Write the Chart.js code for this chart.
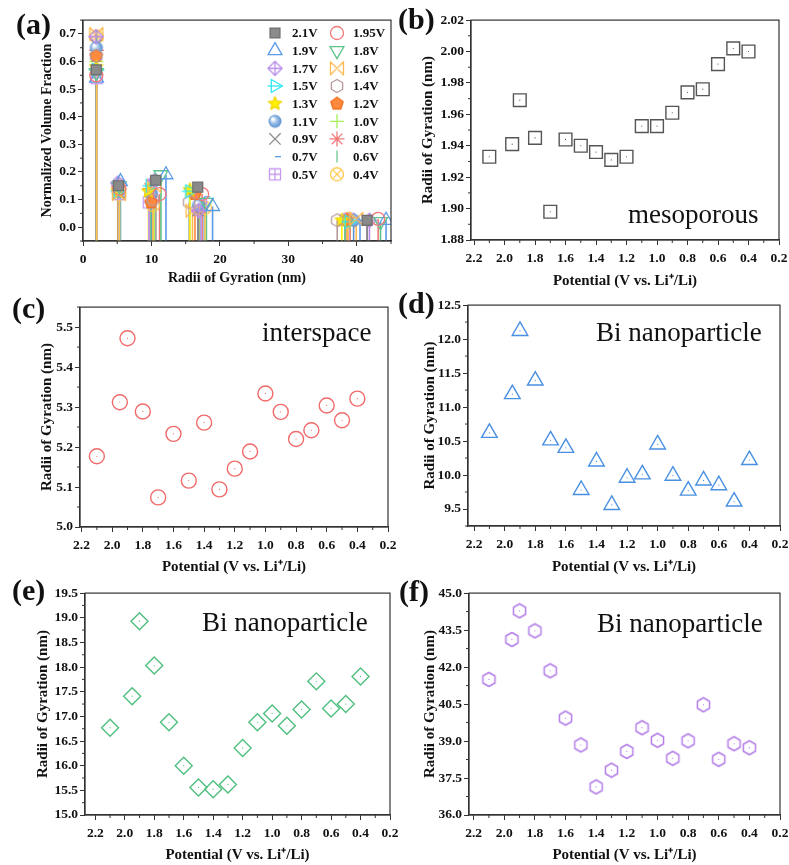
<!DOCTYPE html>
<html>
<head>
<meta charset="utf-8">
<script src="https://cdn.jsdelivr.net/npm/chart.js@4.4.1/dist/chart.umd.min.js"></script>
<style>
  body { margin: 0; background: #fff; width: 789px; height: 865px; position: relative; overflow: hidden; font-family: 'Liberation Serif', 'Times New Roman', serif; }
  canvas { position: absolute; }
  .lab { position: absolute; font-weight: bold; font-size: 30px; line-height: 30px; color: #111; }
  .note { position: absolute; font-size: 27px; line-height: 27px; color: #111; white-space: nowrap; }
</style>
</head>
<body>
<canvas id="chartA" width="356" height="277" style="left:39px;top:10px"></canvas>
<canvas id="chartB" width="370" height="280" style="left:419px;top:10px"></canvas>
<canvas id="chartC" width="362" height="279" style="left:38px;top:297px"></canvas>
<canvas id="chartD" width="368" height="281" style="left:421px;top:295px"></canvas>
<canvas id="chartE" width="366" height="281" style="left:34px;top:583px"></canvas>
<canvas id="chartF" width="368" height="281" style="left:421px;top:583px"></canvas>

<div class="lab" style="left:16px;top:9px">(a)</div>
<div class="lab" style="left:398px;top:4px">(b)</div>
<div class="lab" style="left:12px;top:293px">(c)</div>
<div class="lab" style="left:398px;top:288px">(d)</div>
<div class="lab" style="left:12px;top:575px">(e)</div>
<div class="lab" style="left:399px;top:576px">(f)</div>

<div class="note" style="left:628px;top:201px">mesoporous</div>
<div class="note" style="left:262px;top:319px">interspace</div>
<div class="note" style="left:596px;top:319px">Bi nanoparticle</div>
<div class="note" style="left:202px;top:609px">Bi nanoparticle</div>
<div class="note" style="left:597px;top:610px">Bi nanoparticle</div>

<script>
// === data ===
const voltages = [2.1, 1.95, 1.9, 1.8, 1.7, 1.6, 1.5, 1.4, 1.3, 1.2, 1.1, 1.0, 0.9, 0.8, 0.7, 0.6, 0.5, 0.4];
const voltLabels = ['2.1V', '1.95V', '1.9V', '1.8V', '1.7V', '1.6V', '1.5V', '1.4V', '1.3V', '1.2V',
                    '1.1V', '1.0V', '0.9V', '0.8V', '0.7V', '0.6V', '0.5V', '0.4V'];

// radii of gyration (nm) per population
const rgMeso  = [1.933, 1.941, 1.969, 1.945, 1.898, 1.944, 1.940, 1.936, 1.931, 1.933, 1.9525, 1.9525, 1.961, 1.974, 1.976, 1.992, 2.002, 2.000];
const rgInter = [5.177, 5.312, 5.472, 5.289, 5.074, 5.233, 5.116, 5.261, 5.094, 5.146, 5.189, 5.334, 5.288, 5.220, 5.242, 5.304, 5.267, 5.321];
const rgBiS   = [10.62, 11.19, 12.12, 11.39, 10.51, 10.40, 9.78, 10.20, 9.56, 9.96, 10.01, 10.45, 9.99, 9.77, 9.92, 9.85, 9.61, 10.22];
const rgBiM   = [16.77, 17.41, 18.93, 18.03, 16.88, 16.00, 15.56, 15.52, 15.62, 16.36, 16.88, 17.06, 16.81, 17.14, 17.71, 17.16, 17.25, 17.81];
const rgBiL   = [41.50, 43.12, 44.28, 43.47, 41.85, 39.93, 38.84, 37.14, 37.82, 38.58, 39.54, 39.03, 38.30, 39.01, 40.47, 38.26, 38.89, 38.73];

// normalized volume fractions per population
const fracMeso  = [0.57, 0.55, 0.54, 0.56, 0.69, 0.70, 0.57, 0.62, 0.58, 0.62, 0.65, 0.60, 0.66, 0.64, 0.57, 0.69, 0.54, 0.69];
const fracInter = [0.15, 0.14, 0.165, 0.15, 0.16, 0.12, 0.13, 0.155, 0.13, 0.14, 0.13, 0.14, 0.125, 0.15, 0.14, 0.13, 0.12, 0.12];
const fracBiS   = [0.17, 0.12, 0.19, 0.19, 0.17, 0.15, 0.15, 0.10, 0.13, 0.09, 0.12, 0.16, 0.13, 0.14, 0.16, 0.09, 0.09, 0.08];
const fracBiM   = [0.145, 0.12, 0.075, 0.09, 0.06, 0.06, 0.13, 0.09, 0.135, 0.12, 0.08, 0.08, 0.06, 0.07, 0.11, 0.07, 0.08, 0.07];
const fracBiL   = [0.025, 0.03, 0.025, 0.02, 0.025, 0.03, 0.02, 0.025, 0.025, 0.025, 0.025, 0.02, 0.025, 0.02, 0.025, 0.02, 0.03, 0.03];

// === marker images ===
function mk(size, fn, lw) {
    const c = document.createElement('canvas');
    c.width = c.height = size;
    const g = c.getContext('2d');
    g.translate(size / 2, size / 2);
    g.lineWidth = lw || 1.3;
    g.lineJoin = 'round';
    fn(g, size / 2 - 1.5);
    return c;
}
function poly(g, n, r, a0) {
    g.beginPath();
    for (let k = 0; k < n; k++) {
        const a = a0 + k * 2 * Math.PI / n;
        g.lineTo(r * Math.cos(a), r * Math.sin(a));
    }
    g.closePath();
}
const imgCrossDiamond = c => mk(17, (g, r) => {
    g.strokeStyle = c; poly(g, 4, r, -Math.PI / 2); g.stroke();
    g.beginPath(); g.moveTo(0, -r); g.lineTo(0, r); g.moveTo(-r, 0); g.lineTo(r, 0); g.stroke();
});
const imgBowtie = c => mk(16, (g, r) => {
    g.strokeStyle = c; g.beginPath();
    g.moveTo(-r, -r); g.lineTo(r, r); g.lineTo(r, -r); g.lineTo(-r, r); g.closePath(); g.stroke();
});
const imgArrowTri = c => mk(18, (g, r) => {
    g.strokeStyle = c; poly(g, 3, r, 0); g.stroke();
    g.beginPath(); g.moveTo(-r, 0); g.lineTo(r, 0); g.stroke();
});
const imgHex = (c, size, lw) => mk(size || 16, (g, r) => {
    g.strokeStyle = c; poly(g, 6, r, -Math.PI / 2); g.stroke();
}, lw);
const imgStar = c => mk(17, (g, r) => {
    g.beginPath();
    for (let k = 0; k < 10; k++) {
        const a = -Math.PI / 2 + k * Math.PI / 5, rr = k % 2 ? r * 0.45 : r;
        g.lineTo(rr * Math.cos(a), rr * Math.sin(a));
    }
    g.closePath(); g.fillStyle = c; g.fill(); g.strokeStyle = '#f2d600'; g.stroke();
});
const imgPentagon = c => mk(16, (g, r) => {
    poly(g, 5, r, -Math.PI / 2); g.fillStyle = c; g.fill(); g.strokeStyle = '#f07020'; g.stroke();
});
const imgSphere = c => mk(16, (g, r) => {
    const gr = g.createRadialGradient(-r * 0.35, -r * 0.35, 1, 0, 0, r);
    gr.addColorStop(0, '#ffffff'); gr.addColorStop(0.45, '#9cc0e8'); gr.addColorStop(1, c);
    g.beginPath(); g.arc(0, 0, r, 0, 2 * Math.PI); g.fillStyle = gr; g.fill();
});
const imgSquarePlus = c => mk(16, (g, r) => {
    const s = r * 0.85;
    g.strokeStyle = c; g.strokeRect(-s, -s, 2 * s, 2 * s);
    g.beginPath(); g.moveTo(0, -s); g.lineTo(0, s); g.moveTo(-s, 0); g.lineTo(s, 0); g.stroke();
});
const imgCircleX = c => mk(16, (g, r) => {
    g.strokeStyle = c; g.beginPath(); g.arc(0, 0, r, 0, 2 * Math.PI); g.stroke();
    const d = r * 0.707;
    g.beginPath(); g.moveTo(-d, -d); g.lineTo(d, d); g.moveTo(d, -d); g.lineTo(-d, d); g.stroke();
});

// marker look for each voltage in panel (a)
const aStyles = [
    { color: '#707070', fill: '#8a8a8a', style: 'rect', r: 7 },
    { color: '#f07878', style: 'circle', r: 6.5 },
    { color: '#5b9be8', style: 'triangle', r: 8 },
    { color: '#5cc48a', style: 'triangle', rot: 180, r: 8 },
    { color: '#b68be8', style: imgCrossDiamond('#b68be8') },
    { color: '#ffb84d', style: imgBowtie('#ffb84d') },
    { color: '#2ee6f0', style: imgArrowTri('#2ee6f0') },
    { color: '#b89a9a', style: imgHex('#b89a9a') },
    { color: '#fff200', style: imgStar('#fff200') },
    { color: '#ff8a3d', style: imgPentagon('#ff8a3d') },
    { color: '#5b8fcf', style: imgSphere('#5b8fcf') },
    { color: '#a6f25a', style: 'cross', r: 7 },
    { color: '#8c8c8c', style: 'crossRot', r: 8 },
    { color: '#f37a7a', style: 'star', r: 7.5 },
    { color: '#5b9be8', style: 'dash', r: 6 },
    { color: '#6cc98e', style: 'line', rot: 90, r: 6 },
    { color: '#c79af0', style: imgSquarePlus('#c79af0') },
    { color: '#ffc74a', style: imgCircleX('#ffc74a') }
];

// === shared helpers ===
const serif = "'Liberation Serif', 'Times New Roman', serif";
const tickFont = { family: serif, size: 13.5, weight: 'bold' };

function axis(o) {
    const left = o.pos === 'left';
    return {
        type: 'linear', position: o.pos, min: o.min, max: o.max, reverse: !!o.reverse,
        title: { display: true, text: o.title, font: { family: serif, size: o.titleSize, weight: 'bold' }, color: '#111', padding: 0 },
        ticks: {
            font: tickFont, color: '#111',
            padding: left ? 2 : 5, maxRotation: 0, autoSkip: false,
            callback: v => Number(v).toFixed(o.dec)
        },
        grid: { drawOnChartArea: false, drawTicks: true, tickLength: 5, tickColor: '#333', tickWidth: 1 },
        border: { display: true, color: '#333', width: 1.2 },
        afterBuildTicks: s => {
            const t = [];
            for (let k = Math.ceil(s.min / o.step - 1e-6); k * o.step <= s.max + 1e-6; k++) {
                t.push({ value: +(k * o.step).toFixed(6) });
            }
            s.ticks = t;
        },
        afterFit: s => { if (left) s.width = o.size; else s.height = o.size; }
    };
}

const frame = {
    id: 'frame',
    afterDraw(chart) {
        const { ctx, chartArea: a } = chart;
        ctx.save();
        ctx.strokeStyle = '#333';
        ctx.lineWidth = 1.2;
        ctx.strokeRect(a.left, a.top, a.right - a.left, a.bottom - a.top);
        ctx.restore();
    }
};

const minorTicks = {
    id: 'minorTicks',
    afterDraw(chart) {
        const ctx = chart.ctx;
        ctx.save();
        ctx.strokeStyle = '#333';
        ctx.lineWidth = 1;
        ['x', 'y'].forEach(id => {
            const s = chart.scales[id];
            const t = s.ticks;
            if (t.length < 2) return;
            const step = t[1].value - t[0].value;
            for (let v = t[0].value - step / 2; v <= s.max + 1e-9; v += step) {
                if (v < s.min - 1e-9) continue;
                const p = s.getPixelForValue(v);
                ctx.beginPath();
                if (id === 'x') { ctx.moveTo(p, s.top); ctx.lineTo(p, s.top + 3); }
                else { ctx.moveTo(s.right, p); ctx.lineTo(s.right - 3, p); }
                ctx.stroke();
            }
        });
        ctx.restore();
    }
};

const dropLines = {
    id: 'dropLines',
    beforeDatasetsDraw(chart) {
        const { ctx, chartArea: a } = chart;
        ctx.save();
        ctx.beginPath();
        ctx.rect(a.left, a.top, a.right - a.left, a.bottom - a.top);
        ctx.clip();
        ctx.lineWidth = 1.6;
        chart.data.datasets.forEach((ds, i) => {
            ctx.strokeStyle = ds.borderColor;
            chart.getDatasetMeta(i).data.forEach(el => {
                ctx.beginPath();
                ctx.moveTo(el.x, el.y);
                ctx.lineTo(el.x, a.bottom);
                ctx.stroke();
            });
        });
        ctx.restore();
    }
};

const insideLegend = {
    id: 'insideLegend',
    afterDraw(chart, args, opts) {
        const ctx = chart.ctx;
        ctx.save();
        ctx.font = 'bold 13px ' + serif;
        ctx.textBaseline = 'middle';
        chart.data.datasets.forEach((ds, i) => {
            const col = i % 2, row = Math.floor(i / 2);
            const x = opts.markX[col], y = opts.top + row * opts.rowGap;
            ctx.save();
            ctx.strokeStyle = ds.borderColor;
            ctx.fillStyle = ds.pointBackgroundColor;
            ctx.lineWidth = ds.pointBorderWidth;
            Chart.helpers.drawPoint(ctx, {
                pointStyle: ds.pointStyle, rotation: ds.pointRotation || 0,
                radius: ds.pointRadius, borderWidth: ds.pointBorderWidth
            }, x, y);
            ctx.restore();
            ctx.fillStyle = '#111';
            ctx.fillText(ds.label, opts.textX[col], y + 1);
        });
        ctx.restore();
    }
};

// === (a) volume fraction vs radius ===
const rgSets = [rgMeso, rgInter, rgBiS, rgBiM, rgBiL];
const fracSets = [fracMeso, fracInter, fracBiS, fracBiM, fracBiL];

new Chart(document.getElementById('chartA'), {
    type: 'scatter',
    data: {
        datasets: voltLabels.map((lab, i) => {
            const st = aStyles[i];
            return {
                label: lab,
                data: rgSets.map((rg, k) => ({ x: rg[i], y: fracSets[k][i] })),
                borderColor: st.color,
                backgroundColor: st.fill || 'rgba(0,0,0,0)',
                pointBackgroundColor: st.fill || 'rgba(0,0,0,0)',
                pointStyle: st.style,
                pointRotation: st.rot || 0,
                pointRadius: st.r || 7,
                pointBorderWidth: 1.3
            };
        })
    },
    options: {
        responsive: false, animation: false,
        layout: { autoPadding: false, padding: { top: 6, right: 4, left: 0, bottom: 0 } },
        scales: {
            x: axis({ pos: 'bottom', min: 0, max: 45, step: 10, dec: 0, title: 'Radii of Gyration (nm)', titleSize: 14, size: 46 }),
            y: axis({ pos: 'left', min: -0.05, max: 0.75, step: 0.1, dec: 1, title: 'Normalized Volume Fraction', titleSize: 14, size: 44 })
        },
        plugins: {
            legend: { display: false }, tooltip: { enabled: false },
            insideLegend: { markX: [236, 298], textX: [253, 314], top: 23, rowGap: 17.66 }
        }
    },
    plugins: [dropLines, frame, minorTicks, insideLegend]
});

// === (b)-(f) radius vs potential ===
function rgChart(id, values, look, y, xSize, ySize, padRight, xMax) {
    const pts = voltages.map((v, i) => ({ x: v, y: values[i] }));
    new Chart(document.getElementById(id), {
        type: 'scatter',
        data: {
            datasets: [{
                data: pts,
                borderColor: look.color,
                backgroundColor: 'rgba(0,0,0,0)',
                pointStyle: look.style,
                pointRadius: look.r,
                pointBorderWidth: 1.4
            }, {
                // small centre dot of each marker
                data: pts,
                borderColor: look.color,
                backgroundColor: look.color,
                pointStyle: 'circle',
                pointRadius: 0.6,
                pointBorderWidth: 0
            }]
        },
        options: {
            responsive: false, animation: false,
            layout: { autoPadding: false, padding: { top: 6, right: padRight, left: 0, bottom: 0 } },
            scales: {
                x: axis({ pos: 'bottom', min: 0.2, max: xMax, step: 0.2, dec: 1, reverse: true,
                          title: 'Potential (V vs. Li\u207A/Li)', titleSize: 15, size: xSize }),
                y: axis(Object.assign({ pos: 'left', title: 'Radii of Gyration (nm)', titleSize: 15, size: ySize }, y))
            },
            plugins: { legend: { display: false }, tooltip: { enabled: false } }
        },
        plugins: [frame, minorTicks]
    });
}

rgChart('chartB', rgMeso,  { color: '#555555', style: 'rect', r: 9 },
        { min: 1.88, max: 2.02, step: 0.02, dec: 2 }, 50, 52, 10, 2.22);
rgChart('chartC', rgInter, { color: '#f06a6a', style: 'circle', r: 7.5 },
        { min: 5.0, max: 5.55, step: 0.1, dec: 1 }, 49, 42, 12, 2.21);
rgChart('chartD', rgBiS,   { color: '#4a90e2', style: 'triangle', r: 9 },
        { min: 9.25, max: 12.5, step: 0.5, dec: 1 }, 50, 47, 9, 2.24);
rgChart('chartE', rgBiM,   { color: '#4fbf7f', style: 'rectRot', r: 8.5 },
        { min: 15, max: 19.5, step: 0.5, dec: 1 }, 49, 51, 10, 2.27);
rgChart('chartF', rgBiL,   { color: '#b57fe8', style: imgHex('#b57fe8', 17, 1.5), r: 7 },
        { min: 36, max: 45, step: 1.5, dec: 1 }, 49, 48, 9, 2.23);
</script>
</body>
</html>
